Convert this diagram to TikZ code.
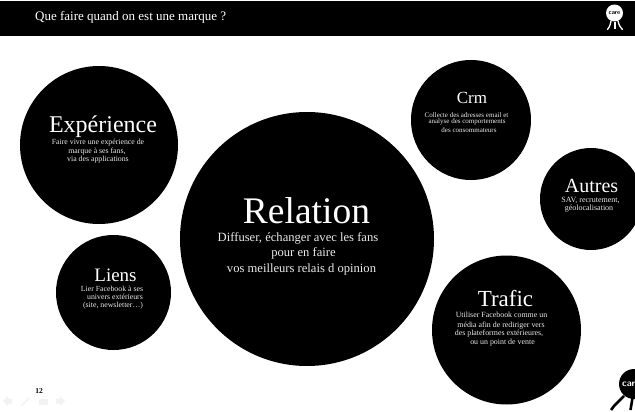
\documentclass[tikz,border=0pt]{standalone}
\usepackage{fontspec}
\setmainfont{Liberation Serif}
\tikzset{
  x=1pt,y=-1pt,
  disc/.style={fill=black,draw=none,circle,inner sep=0pt},
  ttl/.style={text=white,inner sep=0pt,anchor=center},
  ln/.style={text=white!92!black,inner sep=0pt,anchor=center},
  navicon/.style={fill=black!5,draw=none},
}
\newcommand{\fs}[1]{\fontsize{#1}{#1}\selectfont}
\begin{document}
\begin{tikzpicture}
\useasboundingbox (0,0) rectangle (635,412);
\fill[white] (0,0) rectangle (635,412);
% header
\fill[black] (0,0.8) rectangle (635,36);
\node[text=white,inner sep=0pt,anchor=west] (head) at (35,17.5) {\fs{13}Que faire quand on est une marque ?};
% logo top
\fill[white] (614.5,13) circle (8.5);
\draw[white,line width=1.3pt,line cap=round] (611,21) .. controls (610,26) and (609,28) .. (607.5,29.5);
\draw[white,line width=1.3pt,line cap=round] (618,21) .. controls (619,26) and (621,28) .. (622.5,29.5);
\draw[white,line width=1.6pt] (615,22) -- (615,29);
\node[inner sep=0pt] (logoa) at (614.5,13) {\fs{6.2}\sffamily\bfseries care};
% circles
\node[disc,minimum size=254] (rel) at (307,239) {};
\node[disc,minimum size=158] (exp) at (99,145) {};
\node[disc,minimum size=115] (lie) at (113.5,292.5) {};
\node[disc,minimum size=120] (crm) at (471,120) {};
\node[disc,minimum size=102] (aut) at (591,199) {};
\node[disc,minimum size=149] (tra) at (506.5,330) {};
% Relation
\node[ttl] (t1) at (306.5,210.5) {\fs{37.5}Relation};
\node[ln] (a1) at (298,238) {\fs{12.6}Diffuser, échanger avec les fans};
\node[ln] (a2) at (303.5,253) {\fs{12.6}pour en faire};
\node[ln] (a3) at (301.5,269) {\fs{12.6}vos meilleurs relais d opinion};
% Experience
\node[ttl] (t2) at (103,127) {\fs{24}Expérience};
\node[ln] (b1) at (98,143) {\fs{7.8}Faire vivre une expérience de};
\node[ln] (b2) at (97,151.5) {\fs{7.8}marque à ses fans,};
\node[ln] (b3) at (98,160) {\fs{7.8}via des applications};
% Liens
\node[ttl] (t3) at (115.5,275) {\fs{19}Liens};
\node[ln] (c1) at (112,288.5) {\fs{7.8}Lier Facebook à ses};
\node[ln] (c2) at (115,297) {\fs{7.8}univers extérieurs};
\node[ln] (c3) at (113,305.5) {\fs{7.8}(site, newsletter…)};
% Crm
\node[ttl] (t4) at (472,98) {\fs{17}Crm};
\node[ln] (d1) at (466.5,115) {\fs{7}Collecte des adresses email et};
\node[ln] (d2) at (467,122.3) {\fs{7}analyse des comportements};
\node[ln] (d3) at (469,130) {\fs{7}des consommateurs};
% Autres
\node[ttl] (t5) at (591.5,186) {\fs{20}Autres};
\node[ln] (e1) at (590.5,200) {\fs{8}SAV, recrutement,};
\node[ln] (e2) at (589,208.5) {\fs{8}géolocalisation};
% Trafic
\node[ttl] (t6) at (505.5,299) {\fs{23}Trafic};
\node[ln] (f1) at (501.5,315) {\fs{7.9}Utiliser Facebook comme un};
\node[ln] (f2) at (501,325.5) {\fs{7.9}média afin de rediriger vers};
\node[ln] (f3) at (499,334) {\fs{7.9}des plateformes extérieures,};
\node[ln] (f4) at (502.5,343) {\fs{7.9}ou un point de vente};
% page number
\node[inner sep=0pt] (num) at (39,391) {\fs{7.5}\bfseries 12};
% faint nav icons
\fill[navicon] (3,401) -- (8,396) -- (8,398.5) -- (12,398.5) -- (12,403.5) -- (8,403.5) -- (8,406) -- cycle;
\fill[navicon] (21,405) -- (29,397) -- (30,398) -- (22,406) -- cycle;
\fill[navicon] (39,399) rectangle (48,405);
\fill[navicon] (65,401) -- (60,396) -- (60,398.5) -- (56,398.5) -- (56,403.5) -- (60,403.5) -- (60,406) -- cycle;
% logo bottom
\fill[black] (634,384) circle (15);
\draw[black,line width=2.6pt] (624,396) -- (614,406) -- (611,410);
\draw[black,line width=2.6pt] (632.5,398) -- (630.5,410);
\node[text=white,inner sep=0pt,anchor=west] (logob) at (622,384) {\fs{9.5}\sffamily\bfseries car};
\end{tikzpicture}
\end{document}
